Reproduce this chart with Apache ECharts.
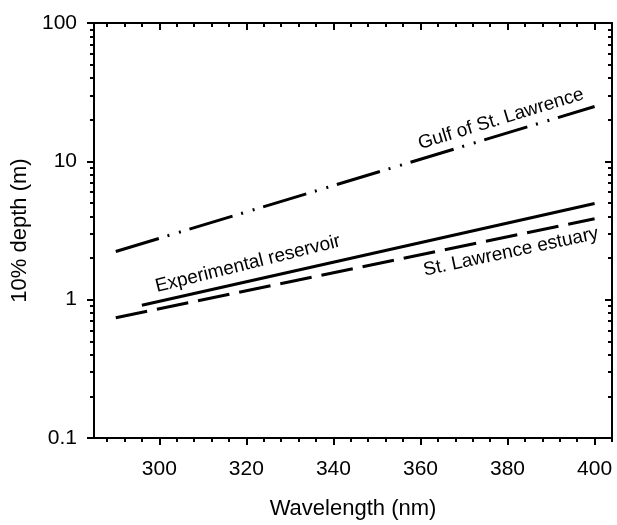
<!DOCTYPE html>
<html>
<head>
<meta charset="utf-8">
<script src="https://cdn.jsdelivr.net/npm/echarts@6/dist/echarts.min.js"></script>
<style>
  html, body { margin: 0; padding: 0; background: #fff; }
  #chart { width: 617px; height: 525px; }
</style>
</head>
<body>
<div id="chart"></div>
<script>
// wavelength (nm) and 10% depth (m), read at the ends of each line
var gulfX = [290, 400];
var gulfY = [2.23, 24.9];
var reservoirX = [296, 400];
var reservoirY = [0.91, 4.95];
var estuaryX = [290, 400];
var estuaryY = [0.74, 3.84];

var xMajor = [300, 320, 340, 360, 380, 400];
var xMinor = [288, 292, 296, 304, 308, 312, 316, 324, 328, 332, 336, 344, 348, 352, 356,
  364, 368, 372, 376, 384, 388, 392, 396, 404];
var yMajorLog = [-1, 0, 1, 2];
var yMinorLog = [];
for (var d = -1; d < 2; d++) {
  for (var k = 2; k <= 9; k++) yMinorLog.push(d + Math.log10(k));
}

function pairs (xs, ys) {
  var out = [];
  for (var i = 0; i < xs.length; i++) out.push([xs[i], ys[i]]);
  return out;
}

var FONT = 'Liberation Sans, Arial, Helvetica, sans-serif';
var black = '#000';

function xAx (pos, vals, len, inside, showLine, extra) {
  var a = {
    type: 'value', min: 285, max: 404, position: pos,
    axisLine: { show: showLine, onZero: false, lineStyle: { color: black, width: 2 } },
    axisTick: { show: true, inside: inside, length: len, customValues: vals, lineStyle: { color: black, width: 2 } },
    axisLabel: { show: false },
    splitLine: { show: false }
  };
  return Object.assign(a, extra || {});
}
function yAx (pos, vals, len, inside, showLine) {
  return {
    type: 'value', min: -1, max: 2, position: pos,
    axisLine: { show: showLine, onZero: false, lineStyle: { color: black, width: 2 } },
    axisTick: { show: true, inside: inside, length: len, customValues: vals, lineStyle: { color: black, width: 2 } },
    axisLabel: { show: false },
    splitLine: { show: false }
  };
}

var chart = echarts.init(document.getElementById('chart'));
chart.setOption({
  animation: false,
  backgroundColor: '#fff',
  grid: { left: 94, right: 5, top: 23, bottom: 83 },
  xAxis: [
    xAx('bottom', xMajor, 7, false, true, {
      name: 'Wavelength (nm)', nameLocation: 'middle', nameGap: 60,
      nameTextStyle: { fontFamily: FONT, fontSize: 22, color: black },
      axisLabel: { show: true, customValues: xMajor, margin: 21, fontFamily: FONT, fontSize: 21, color: black }
    }),
    xAx('bottom', xMinor, 4, false, false),
    xAx('top', xMajor, 7, true, true),
    xAx('top', xMinor, 4, true, false)
  ],
  yAxis: [
    {
      type: 'log', logBase: 10, min: 0.1, max: 100, position: 'left',
      name: '10% depth (m)', nameLocation: 'middle', nameGap: 60,
      nameTextStyle: { fontFamily: FONT, fontSize: 22, color: black },
      axisLine: { show: true, onZero: false, lineStyle: { color: black, width: 2 } },
      axisTick: { show: true, length: 7, lineStyle: { color: black, width: 2 } },
      axisLabel: { show: true, margin: 17, fontFamily: FONT, fontSize: 21, color: black },
      splitLine: { show: false }
    },
    yAx('left', yMinorLog, 4, false, false),
    yAx('right', yMajorLog, 7, true, true),
    yAx('right', yMinorLog, 4, true, false)
  ],
  series: [
    {
      name: 'Gulf of St. Lawrence', type: 'line', data: pairs(gulfX, gulfY),
      symbol: 'none', lineStyle: { color: black, width: 3, type: [45, 9, 2, 10, 2, 9], cap: 'butt' }
    },
    {
      name: 'Experimental reservoir', type: 'line', data: pairs(reservoirX, reservoirY),
      symbol: 'none', lineStyle: { color: black, width: 3, type: 'solid' }
    },
    {
      name: 'St. Lawrence estuary', type: 'line', data: pairs(estuaryX, estuaryY),
      symbol: 'none', lineStyle: { color: black, width: 3, type: [32, 10], cap: 'butt' }
    }
  ],
  graphic: [
    { type: 'text', x: 501, y: 119, rotation: 17 * Math.PI / 180,
      style: { text: 'Gulf of St. Lawrence', font: '19px ' + FONT, fill: black, align: 'center', verticalAlign: 'middle' } },
    { type: 'text', x: 248, y: 264, rotation: 14 * Math.PI / 180,
      style: { text: 'Experimental reservoir', font: '19px ' + FONT, fill: black, align: 'center', verticalAlign: 'middle' } },
    { type: 'text', x: 511, y: 252, rotation: 12 * Math.PI / 180,
      style: { text: 'St. Lawrence estuary', font: '19px ' + FONT, fill: black, align: 'center', verticalAlign: 'middle' } }
  ]
});
</script>
</body>
</html>
